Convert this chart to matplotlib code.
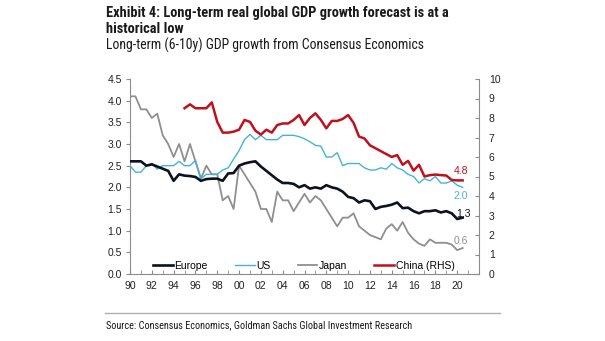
import numpy as np
import matplotlib
matplotlib.use("Agg")
import matplotlib.pyplot as plt
from matplotlib.lines import Line2D

# Semi-annual long-term (6-10y) GDP growth forecasts, % per year
start_year = 1990.0
europe = [2.6, 2.6, 2.6, 2.5, 2.53, 2.48, 2.43, 2.38, 2.15, 2.3,
          2.27, 2.26, 2.24, 2.15, 2.19, 2.2, 2.2, 2.15, 2.32, 2.33,
          2.5, 2.55, 2.58, 2.6, 2.48, 2.38, 2.28, 2.18, 2.1, 2.1,
          2.08, 2.0, 2.05, 1.97, 2.0, 1.97, 2.05, 2.0, 1.97, 1.9,
          1.78, 1.75, 1.65, 1.7, 1.68, 1.5, 1.55, 1.57, 1.6, 1.65,
          1.52, 1.53, 1.45, 1.4, 1.45, 1.45, 1.47, 1.42, 1.45, 1.4,
          1.27, 1.3]
us = [2.5, 2.35, 2.35, 2.5, 2.55, 2.42, 2.5, 2.5, 2.5, 2.6,
      2.5, 2.5, 2.62, 2.2, 2.3, 2.3, 2.3, 2.4, 2.45, 2.65,
      2.85, 3.1, 3.22, 3.1, 3.2, 3.1, 3.1, 3.1, 3.2, 3.2,
      3.2, 3.17, 3.12, 3.05, 2.97, 2.95, 2.7, 2.7, 2.8, 2.5,
      2.55, 2.55, 2.55, 2.45, 2.4, 2.4, 2.45, 2.42, 2.55, 2.45,
      2.4, 2.3, 2.25, 2.1, 2.2, 2.15, 2.25, 2.1, 2.1, 2.15,
      2.05, 2.0]
japan = [4.1, 4.1, 3.8, 3.8, 3.6, 3.7, 3.2, 3.0, 2.7, 3.0,
         2.6, 3.0, 2.6, 2.2, 2.5, 2.3, 2.3, 1.7, 1.8, 1.5,
         2.5, 2.3, 2.1, 1.9, 1.5, 1.5, 1.2, 1.9, 1.7, 1.7,
         1.45, 1.65, 1.85, 1.65, 1.8, 1.7, 1.5, 1.3, 1.1, 1.3,
         1.3, 1.4, 1.1, 1.0, 0.9, 0.85, 0.8, 1.05, 1.15, 1.0,
         1.2, 0.95, 0.8, 0.7, 0.65, 0.8, 0.72, 0.72, 0.72, 0.68,
         0.55, 0.6]
china_start = 1995.0
china = [8.5, 8.7, 8.5, 8.5, 8.5, 8.8, 7.8, 7.25, 7.25, 7.3,
         7.4, 7.9, 7.8, 7.35, 7.15, 7.4, 7.25, 7.64, 7.72, 7.72,
         7.9, 8.15, 7.64, 8.0, 8.24, 7.9, 7.47, 7.85, 7.85, 7.95,
         8.15, 7.75, 7.05, 6.95, 6.6, 6.45, 6.3, 6.15, 6.0, 6.1,
         5.6, 5.8, 5.3, 5.6, 5.0, 5.07, 5.1, 5.07, 5.05, 4.82,
         4.8, 4.8]

x_ticks = list(range(1990, 2021, 2))
x_labels = ["%02d" % (y % 100) for y in x_ticks]

t_main = start_year + 0.5 * np.arange(len(europe))
t_china = china_start + 0.5 * np.arange(len(china))

c_europe = "#0b1220"
c_us = "#45b4d2"
c_japan = "#8f8f8f"
c_china = "#c0101e"
c_axis = "#8c8c8c"
c_text = "#1a1a1a"

plt.rcParams["font.family"] = ["Liberation Sans", "DejaVu Sans"]

fig = plt.figure(figsize=(6.05, 3.41), dpi=100)
ax = fig.add_axes([130 / 605, 67 / 341, 349 / 605, 195 / 341])
ax2 = ax.twinx()

ax.plot(t_main, japan, color=c_japan, lw=1.3, zorder=2)
ax.plot(t_main, us, color=c_us, lw=1.0, zorder=3)
ax.plot(t_main, europe, color=c_europe, lw=1.9, zorder=4)
ax2.plot(t_china, china, color=c_china, lw=1.8, zorder=5)

ax.set_xlim(1990, 2022)
ax.set_ylim(0, 4.5)
ax2.set_ylim(0, 10)
ax.set_yticks(np.arange(0, 4.51, 0.5))
ax.set_yticklabels(["%.1f" % v for v in np.arange(0, 4.51, 0.5)])
ax2.set_yticks(range(0, 11))
ax.set_xticks(x_ticks)
ax.set_xticklabels(x_labels)
ax.set_xticks(range(1990, 2022), minor=True)

for a in (ax, ax2):
    a.spines["top"].set_visible(False)
    for s in ("left", "right", "bottom"):
        a.spines[s].set_color(c_axis)
        a.spines[s].set_linewidth(0.8)
    a.patch.set_visible(False)
ax2.spines["left"].set_visible(False)
ax2.spines["bottom"].set_visible(False)
ax.spines["right"].set_visible(False)

ax.tick_params(axis="y", direction="out", length=3, color=c_axis,
               labelsize=7.5, pad=3, labelcolor="#222222")
ax.tick_params(axis="x", which="both", direction="in", length=3, color=c_axis,
               labelsize=7.5, pad=5, labelcolor="#222222")
ax2.tick_params(axis="y", direction="in", length=3, color=c_axis,
                labelsize=7.5, pad=7, labelcolor="#222222")

# End-of-series value labels
ax2.text(2019.7, china[-1] + 0.25, "%.1f" % china[-1], color=c_china,
         fontsize=7.5, ha="left", va="bottom")
ax.text(2019.7, us[-1] - 0.08, "%.1f" % us[-1], color=c_us,
        fontsize=7.5, ha="left", va="top")
ax.text(2019.9, europe[-1] - 0.04, "%.1f" % europe[-1], color=c_europe,
        fontsize=7.5, ha="left", va="bottom")
ax.text(2019.7, japan[-1] + 0.04, "%.1f" % japan[-1], color=c_japan,
        fontsize=7.5, ha="left", va="bottom")

handles = [
    Line2D([], [], color=c_europe, lw=1.9),
    Line2D([], [], color=c_us, lw=1.0),
    Line2D([], [], color=c_japan, lw=1.3),
    Line2D([], [], color=c_china, lw=1.8),
]
ax2.legend(handles, ["Europe", "US", "Japan", "China (RHS)"],
           loc="center left", bbox_to_anchor=(23 / 349, 8 / 195), ncol=4,
           frameon=False, fontsize=7.5, handlelength=1.9, handletextpad=0.15,
           columnspacing=2.6, borderaxespad=0, borderpad=0)

head_font = ["Roboto Condensed", "DejaVu Sans"]
fig.text(106 / 605, 1 - 13 / 341,
         "Exhibit 4: Long-term real global GDP growth forecast is at a",
         family=head_font, fontweight="bold", fontsize=10.4, ha="left", va="center",
         color=c_text)
fig.text(106 / 605, 1 - 29 / 341, "historical low",
         family=head_font, fontweight="bold", fontsize=10.4, ha="left", va="center",
         color=c_text)
fig.text(106 / 605, 1 - 45 / 341,
         "Long-term (6-10y) GDP growth from Consensus Economics",
         family=head_font, fontsize=9.9, ha="left", va="center", color=c_text)

fig.add_artist(Line2D([105 / 605, 500 / 605], [1 - 313 / 341, 1 - 313 / 341],
                      transform=fig.transFigure, color="#b0b0b0", lw=1.0))
fig.text(106 / 605, 1 - 325 / 341,
         "Source: Consensus Economics, Goldman Sachs Global Investment Research",
         family=head_font, fontsize=7.4, ha="left", va="center", color=c_text)

fig.savefig("out.png", dpi=100)
